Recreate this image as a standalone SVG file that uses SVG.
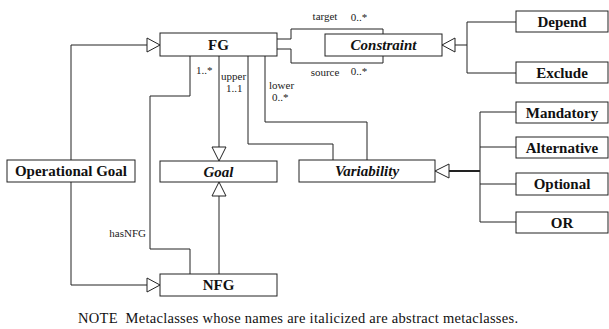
<svg xmlns="http://www.w3.org/2000/svg" width="609" height="329" viewBox="0 0 609 329">
<style>
.box{fill:#fff;stroke:#222;stroke-width:1}
.ln{fill:none;stroke:#222;stroke-width:1}
.thick{fill:none;stroke:#222;stroke-width:2}
.tri{fill:#fff;stroke:#222;stroke-width:1}
text{font-family:'Liberation Serif','Times New Roman',Tinos,'DejaVu Serif',serif}
.nm{font-weight:bold;font-size:15px;text-anchor:middle;fill:#111}
.it{font-style:italic}
.lb{font-size:11px;fill:#222}
.note{font-size:14.5px;fill:#111;text-anchor:middle}
</style>
<rect width="609" height="329" fill="#fff"/>
<g id="connectors">
<polyline class="ln" points="71,160 71,45 147,45"/>
<polyline class="ln" points="71,182 71,285 147,285"/>
<polygon class="tri" points="160,45 147,38 147,52"/>
<polygon class="tri" points="160,285 147,278 147,292"/>
<polyline class="ln" points="190,56 190,96 150,96 150,249 190,249 190,274"/>
<line class="ln" x1="219" y1="56" x2="219" y2="147"/>
<polygon class="tri" points="219,161 212,147 226,147"/>
<line class="ln" x1="219" y1="196" x2="219" y2="274"/>
<polygon class="tri" points="219,182 212,196 226,196"/>
<polyline class="ln" points="248,56 248,144 333,144 333,160"/>
<polyline class="ln" points="265,56 265,122 367,122 367,160"/>
<polyline class="ln" points="277,39 291,39 291,29 383,29 383,34"/>
<polyline class="ln" points="277,49 291,49 291,63 383,63 383,56"/>
<line class="ln" x1="455" y1="45" x2="467" y2="45"/>
<polygon class="tri" points="442,45 455,38 455,52"/>
<polyline class="ln" points="516,22 467,22 467,73 516,73"/>
<line class="thick" x1="449" y1="171" x2="480" y2="171"/>
<polygon class="tri" points="435,171 449,164 449,178"/>
<polyline class="ln" points="516,112 480,112 480,222 516,222"/>
<line class="ln" x1="480" y1="147" x2="516" y2="147"/>
<line class="ln" x1="480" y1="184" x2="516" y2="184"/>
<text class="lb" x="196" y="74">1..*</text>
<text class="lb" x="221" y="80">upper</text>
<text class="lb" x="226" y="92">1..1</text>
<text class="lb" x="269" y="89">lower</text>
<text class="lb" x="272" y="101">0..*</text>
<text class="lb" x="325" y="20" text-anchor="middle">target</text>
<text class="lb" x="359" y="21" text-anchor="middle">0..*</text>
<text class="lb" x="325" y="76" text-anchor="middle">source</text>
<text class="lb" x="359" y="75" text-anchor="middle">0..*</text>
<text class="lb" x="146" y="237" text-anchor="end">hasNFG</text>
</g>
<g id="FG"><rect class="box" x="160" y="33" width="117" height="23"/><text class="nm" x="218.5" y="50">FG</text></g>
<g id="Goal"><rect class="box" x="160" y="161" width="117" height="21"/><text class="nm it" x="218.5" y="177">Goal</text></g>
<g id="NFG"><rect class="box" x="160" y="274" width="117" height="22"/><text class="nm" x="218.5" y="290">NFG</text></g>
<g id="OperationalGoal"><rect class="box" x="7" y="160" width="128" height="22"/><text class="nm" x="71" y="176">Operational Goal</text></g>
<g id="Variability"><rect class="box" x="299" y="160" width="136" height="22"/><text class="nm it" x="367" y="176">Variability</text></g>
<g id="Constraint"><rect class="box" x="325" y="34" width="117" height="22"/><text class="nm it" x="383.5" y="50">Constraint</text></g>
<g id="Depend"><rect class="box" x="516" y="11" width="92" height="21"/><text class="nm" x="562" y="27">Depend</text></g>
<g id="Exclude"><rect class="box" x="516" y="62" width="92" height="21"/><text class="nm" x="562" y="78">Exclude</text></g>
<g id="Mandatory"><rect class="box" x="516" y="102" width="92" height="21"/><text class="nm" x="562" y="118">Mandatory</text></g>
<g id="Alternative"><rect class="box" x="516" y="137" width="92" height="21"/><text class="nm" x="562" y="153">Alternative</text></g>
<g id="Optional"><rect class="box" x="516" y="173" width="92" height="22"/><text class="nm" x="562" y="189">Optional</text></g>
<g id="OR"><rect class="box" x="516" y="212" width="92" height="21"/><text class="nm" x="562" y="228">OR</text></g>
<text class="note" x="298" y="323" xml:space="preserve" textLength="440" lengthAdjust="spacing">NOTE  Metaclasses whose names are italicized are abstract metaclasses.</text>
</svg>
